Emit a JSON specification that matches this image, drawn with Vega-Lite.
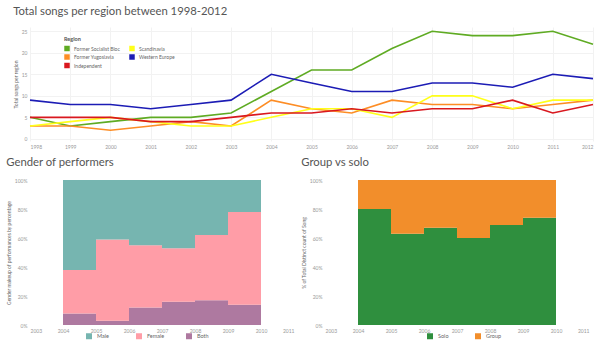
{
  "$schema": "https://vega.github.io/schema/vega-lite/v6.json",
  "padding": {"left": 6, "top": 5, "right": 0, "bottom": 0},
  "background": "white",
  "resolve": {"scale": {"color": "independent"}, "legend": {"color": "independent"}},
  "spacing": 7,
  "config": {
    "font": "Lato",
    "view": {"stroke": null},
    "title": {"font": "Lato", "fontSize": 11.3, "fontWeight": "normal", "color": "#555555", "anchor": "start", "frame": "bounds"},
    "axis": {"labelFont": "Lato", "labelFontSize": 5, "labelColor": "#999999", "titleFont": "Lato", "titleFontSize": 5, "titleFontWeight": "normal", "titleColor": "#666666", "domain": false, "ticks": false, "labelPadding": 3},
    "legend": {"labelFont": "Lato", "labelFontSize": 5.5, "labelColor": "#666666", "titleFont": "Lato", "titleFontSize": 5.5, "titleColor": "#555555"}
  },
  "datasets": {
    "regions": [
      {"year": 1998, "region": "Former Socialist Bloc", "songs": 5},
      {"year": 1999, "region": "Former Socialist Bloc", "songs": 3},
      {"year": 2000, "region": "Former Socialist Bloc", "songs": 4},
      {"year": 2001, "region": "Former Socialist Bloc", "songs": 5},
      {"year": 2002, "region": "Former Socialist Bloc", "songs": 5},
      {"year": 2003, "region": "Former Socialist Bloc", "songs": 6},
      {"year": 2004, "region": "Former Socialist Bloc", "songs": 11},
      {"year": 2005, "region": "Former Socialist Bloc", "songs": 16},
      {"year": 2006, "region": "Former Socialist Bloc", "songs": 16},
      {"year": 2007, "region": "Former Socialist Bloc", "songs": 21},
      {"year": 2008, "region": "Former Socialist Bloc", "songs": 25},
      {"year": 2009, "region": "Former Socialist Bloc", "songs": 24},
      {"year": 2010, "region": "Former Socialist Bloc", "songs": 24},
      {"year": 2011, "region": "Former Socialist Bloc", "songs": 25},
      {"year": 2012, "region": "Former Socialist Bloc", "songs": 22},
      {"year": 1998, "region": "Western Europe", "songs": 9},
      {"year": 1999, "region": "Western Europe", "songs": 8},
      {"year": 2000, "region": "Western Europe", "songs": 8},
      {"year": 2001, "region": "Western Europe", "songs": 7},
      {"year": 2002, "region": "Western Europe", "songs": 8},
      {"year": 2003, "region": "Western Europe", "songs": 9},
      {"year": 2004, "region": "Western Europe", "songs": 15},
      {"year": 2005, "region": "Western Europe", "songs": 13},
      {"year": 2006, "region": "Western Europe", "songs": 11},
      {"year": 2007, "region": "Western Europe", "songs": 11},
      {"year": 2008, "region": "Western Europe", "songs": 13},
      {"year": 2009, "region": "Western Europe", "songs": 13},
      {"year": 2010, "region": "Western Europe", "songs": 12},
      {"year": 2011, "region": "Western Europe", "songs": 15},
      {"year": 2012, "region": "Western Europe", "songs": 14},
      {"year": 1998, "region": "Former Yugoslavia", "songs": 3},
      {"year": 1999, "region": "Former Yugoslavia", "songs": 3},
      {"year": 2000, "region": "Former Yugoslavia", "songs": 2},
      {"year": 2001, "region": "Former Yugoslavia", "songs": 3},
      {"year": 2002, "region": "Former Yugoslavia", "songs": 4},
      {"year": 2003, "region": "Former Yugoslavia", "songs": 3},
      {"year": 2004, "region": "Former Yugoslavia", "songs": 9},
      {"year": 2005, "region": "Former Yugoslavia", "songs": 7},
      {"year": 2006, "region": "Former Yugoslavia", "songs": 6},
      {"year": 2007, "region": "Former Yugoslavia", "songs": 9},
      {"year": 2008, "region": "Former Yugoslavia", "songs": 8},
      {"year": 2009, "region": "Former Yugoslavia", "songs": 8},
      {"year": 2010, "region": "Former Yugoslavia", "songs": 7},
      {"year": 2011, "region": "Former Yugoslavia", "songs": 8},
      {"year": 2012, "region": "Former Yugoslavia", "songs": 9},
      {"year": 1998, "region": "Scandinavia", "songs": 3},
      {"year": 1999, "region": "Scandinavia", "songs": 4},
      {"year": 2000, "region": "Scandinavia", "songs": 5},
      {"year": 2001, "region": "Scandinavia", "songs": 4},
      {"year": 2002, "region": "Scandinavia", "songs": 3},
      {"year": 2003, "region": "Scandinavia", "songs": 3},
      {"year": 2004, "region": "Scandinavia", "songs": 5},
      {"year": 2005, "region": "Scandinavia", "songs": 7},
      {"year": 2006, "region": "Scandinavia", "songs": 7},
      {"year": 2007, "region": "Scandinavia", "songs": 5},
      {"year": 2008, "region": "Scandinavia", "songs": 10},
      {"year": 2009, "region": "Scandinavia", "songs": 10},
      {"year": 2010, "region": "Scandinavia", "songs": 7},
      {"year": 2011, "region": "Scandinavia", "songs": 9},
      {"year": 2012, "region": "Scandinavia", "songs": 9},
      {"year": 1998, "region": "Independent", "songs": 5},
      {"year": 1999, "region": "Independent", "songs": 5},
      {"year": 2000, "region": "Independent", "songs": 5},
      {"year": 2001, "region": "Independent", "songs": 4},
      {"year": 2002, "region": "Independent", "songs": 4},
      {"year": 2003, "region": "Independent", "songs": 5},
      {"year": 2004, "region": "Independent", "songs": 6},
      {"year": 2005, "region": "Independent", "songs": 6},
      {"year": 2006, "region": "Independent", "songs": 7},
      {"year": 2007, "region": "Independent", "songs": 6},
      {"year": 2008, "region": "Independent", "songs": 7},
      {"year": 2009, "region": "Independent", "songs": 7},
      {"year": 2010, "region": "Independent", "songs": 9},
      {"year": 2011, "region": "Independent", "songs": 6},
      {"year": 2012, "region": "Independent", "songs": 8}
    ],
    "gender": [
      {"year": 2004, "gender": "Both", "share": 0.08},
      {"year": 2005, "gender": "Both", "share": 0.03},
      {"year": 2006, "gender": "Both", "share": 0.12},
      {"year": 2007, "gender": "Both", "share": 0.16},
      {"year": 2008, "gender": "Both", "share": 0.17},
      {"year": 2009, "gender": "Both", "share": 0.14},
      {"year": 2010, "gender": "Both", "share": 0.14},
      {"year": 2004, "gender": "Female", "share": 0.30},
      {"year": 2005, "gender": "Female", "share": 0.56},
      {"year": 2006, "gender": "Female", "share": 0.43},
      {"year": 2007, "gender": "Female", "share": 0.37},
      {"year": 2008, "gender": "Female", "share": 0.45},
      {"year": 2009, "gender": "Female", "share": 0.64},
      {"year": 2010, "gender": "Female", "share": 0.64},
      {"year": 2004, "gender": "Male", "share": 0.62},
      {"year": 2005, "gender": "Male", "share": 0.41},
      {"year": 2006, "gender": "Male", "share": 0.45},
      {"year": 2007, "gender": "Male", "share": 0.47},
      {"year": 2008, "gender": "Male", "share": 0.38},
      {"year": 2009, "gender": "Male", "share": 0.22},
      {"year": 2010, "gender": "Male", "share": 0.22}
    ],
    "groupsolo": [
      {"year": 2004, "kind": "Solo", "share": 0.80},
      {"year": 2005, "kind": "Solo", "share": 0.63},
      {"year": 2006, "kind": "Solo", "share": 0.67},
      {"year": 2007, "kind": "Solo", "share": 0.60},
      {"year": 2008, "kind": "Solo", "share": 0.69},
      {"year": 2009, "kind": "Solo", "share": 0.74},
      {"year": 2010, "kind": "Solo", "share": 0.74},
      {"year": 2004, "kind": "Group", "share": 0.20},
      {"year": 2005, "kind": "Group", "share": 0.37},
      {"year": 2006, "kind": "Group", "share": 0.33},
      {"year": 2007, "kind": "Group", "share": 0.40},
      {"year": 2008, "kind": "Group", "share": 0.31},
      {"year": 2009, "kind": "Group", "share": 0.26},
      {"year": 2010, "kind": "Group", "share": 0.26}
    ]
  },
  "vconcat": [
    {
      "name": "top",
      "title": {"text": "Total songs per region between 1998-2012", "offset": 10},
      "width": 563,
      "height": 114,
      "data": {"name": "regions"},
      "mark": {"type": "line", "strokeWidth": 1.6},
      "encoding": {
        "x": {"field": "year", "type": "quantitative",
          "scale": {"domain": [1998, 2012], "nice": false, "zero": false},
          "axis": {"title": null, "format": "d", "values": [1998,1999,2000,2001,2002,2003,2004,2005,2006,2007,2008,2009,2010,2011,2012], "labelFlush": true, "grid": true, "gridColor": "#f2f2f2"}},
        "y": {"field": "songs", "type": "quantitative",
          "scale": {"domain": [-0.5, 26], "nice": false, "zero": false},
          "axis": {"title": "Total songs per region", "values": [0, 5, 10, 15, 20, 25], "grid": true, "gridColor": "#f2f2f2", "titlePadding": 3}},
        "color": {"field": "region", "type": "nominal",
          "scale": {"domain": ["Former Socialist Bloc", "Former Yugoslavia", "Independent", "Scandinavia", "Western Europe"],
                    "range": ["#5fab23", "#fd8d25", "#d9181f", "#ffff1a", "#1c1cb5"]},
          "legend": {"title": "Region", "orient": "none", "legendX": 34, "legendY": 10, "columns": 2, "columnPadding": 9, "rowPadding": 2.5,
            "labelFontSize": 5,
            "symbolType": "square", "symbolSize": 30, "symbolStrokeWidth": 0, "titleFontWeight": "bold", "titlePadding": 3,
            "encode": {"symbols": {"update": {"fill": {"scale": "top_color", "field": "value"}, "fillOpacity": {"value": 1}}}}}}
      }
    },
    {
      "resolve": {"scale": {"color": "independent"}, "legend": {"color": "independent"}},
      "spacing": 7,
      "hconcat": [
        {
          "title": {"text": "Gender of performers", "offset": 10},
          "width": 264,
          "height": 145,
          "data": {"name": "gender"},
          "mark": {"type": "area", "interpolate": "step-after"},
          "encoding": {
            "x": {"field": "year", "type": "quantitative",
              "scale": {"domain": [2003, 2011], "nice": false, "zero": false},
              "axis": {"title": null, "format": "d", "values": [2003,2004,2005,2006,2007,2008,2009,2010,2011], "labelFlush": true, "grid": false}},
            "y": {"field": "share", "type": "quantitative", "stack": "zero",
              "scale": {"domain": [0, 1], "nice": false},
              "axis": {"title": "Gender makeup of performances by percentage", "format": ".0%", "values": [0, 0.2, 0.4, 0.6, 0.8, 1], "grid": false, "titlePadding": 3}},
            "color": {"field": "gender", "type": "nominal",
              "scale": {"domain": ["Male", "Female", "Both"], "range": ["#76b5b0", "#ff9da7", "#ae79a0"]},
              "legend": {"title": null, "orient": "none", "legendX": 55, "legendY": 152, "direction": "horizontal", "symbolType": "square", "symbolSize": 36, "gridAlign": "all", "columnPadding": 20}},
            "order": {"field": "gender", "sort": "ascending"}
          }
        },
        {
          "title": {"text": "Group vs solo", "offset": 10},
          "width": 264,
          "height": 145,
          "data": {"name": "groupsolo"},
          "mark": {"type": "area", "interpolate": "step-after"},
          "encoding": {
            "x": {"field": "year", "type": "quantitative",
              "scale": {"domain": [2003, 2011], "nice": false, "zero": false},
              "axis": {"title": null, "format": "d", "values": [2003,2004,2005,2006,2007,2008,2009,2010,2011], "labelFlush": true, "grid": false}},
            "y": {"field": "share", "type": "quantitative", "stack": "zero",
              "scale": {"domain": [0, 1], "nice": false},
              "axis": {"title": "% of Total Distinct count of Song", "format": ".0%", "values": [0, 0.2, 0.4, 0.6, 0.8, 1], "grid": false, "titlePadding": 3}},
            "color": {"field": "kind", "type": "nominal",
              "scale": {"domain": ["Solo", "Group"], "range": ["#2f8f3e", "#f28e2b"]},
              "legend": {"title": null, "orient": "none", "legendX": 101, "legendY": 152, "direction": "horizontal", "symbolType": "square", "symbolSize": 36, "gridAlign": "all", "columnPadding": 20}},
            "order": {"field": "kind", "sort": "descending"}
          }
        }
      ]
    }
  ]
}
